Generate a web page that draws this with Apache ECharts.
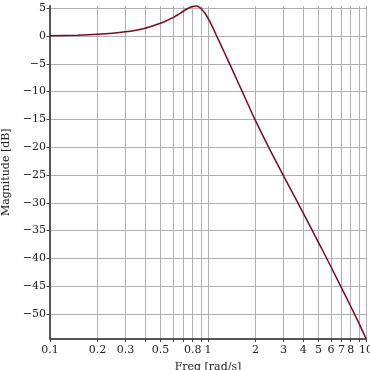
<!DOCTYPE html>
<html>
<head>
<meta charset="utf-8">
<script src="https://cdn.jsdelivr.net/npm/echarts@6/dist/echarts.min.js"></script>
<style>
  html, body { margin: 0; padding: 0; background: #fff; }
  #chart { width: 370px; height: 370px; }
</style>
</head>
<body>
<div id="chart"></div>
<script>
// frequency [rad/s] and magnitude [dB]
const freq = [0.1, 0.15, 0.2, 0.25, 0.3, 0.35, 0.4, 0.45, 0.5, 0.55, 0.6, 0.65, 0.7, 0.75, 0.8, 0.84, 0.88, 0.92, 0.957, 1.0,
  1.05, 1.1, 1.145, 1.2, 1.375, 1.5, 1.648, 1.8, 1.98, 2.5, 3.0, 4.0, 5.0, 6.0, 7.0, 8.0, 9.0, 10];
const magDb = [0.05, 0.15, 0.3, 0.5, 0.75, 1.05, 1.4, 1.85, 2.3, 2.8, 3.3, 3.9, 4.5, 5.0, 5.3, 5.4, 5.2, 4.7, 4.1, 3.2,
  2.05, 0.85, -0.25, -1.45, -5.1, -7.45, -10.0, -12.4, -15.0, -20.8, -25.1, -31.8, -37.1, -41.5, -45.3, -48.6, -51.6, -54.4];

const xLabelValues = [0.1, 0.2, 0.3, 0.5, 0.8, 1, 2, 3, 4, 5, 6, 7, 8, 10];
const xTickValues = [0.1, 0.2, 0.3, 0.4, 0.5, 0.6, 0.7, 0.8, 0.9, 1, 2, 3, 4, 5, 6, 7, 8, 9, 10];

const serif = 'DejaVu Serif';
const minus = v => (v < 0 ? '\u2212' + Math.abs(v) : String(v));

const chart = echarts.init(document.getElementById('chart'));
chart.setOption({
  animation: false,
  grid: { left: 50, right: 4, top: 6, bottom: 31.5, outerBoundsMode: 'none' },
  xAxis: {
    type: 'log',
    logBase: 10,
    min: 0.1,
    max: 10,
    name: 'Freq [rad/s]',
    nameLocation: 'middle',
    nameGap: 23,
    nameTextStyle: { fontFamily: serif, fontSize: 11, color: '#222' },
    axisLine: { onZero: false, lineStyle: { color: '#555', width: 2 } },
    axisTick: { show: true, length: 3.5, customValues: xTickValues, lineStyle: { color: '#444' } },
    axisLabel: {
      customValues: xLabelValues,
      fontFamily: serif, fontSize: 11, color: '#222', margin: 6,
      formatter: v => String(v)
    },
    splitLine: { show: true, lineStyle: { color: '#b0b0b0', width: 1 } }
  },
  yAxis: {
    type: 'value',
    min: -54.4,
    max: 5.4,
    minInterval: 5,
    maxInterval: 5,
    name: 'Magnitude [dB]',
    nameLocation: 'middle',
    nameGap: 34,
    nameTextStyle: { fontFamily: serif, fontSize: 11, color: '#222' },
    axisLine: { show: true, onZero: false, lineStyle: { color: '#555', width: 2 } },
    axisTick: { show: true, length: 3.5, lineStyle: { color: '#444' } },
    axisLabel: {
      fontFamily: serif, fontSize: 11, color: '#222', margin: 4,
      showMinLabel: false, showMaxLabel: false,
      formatter: minus
    },
    splitLine: { show: true, showMinLine: false, showMaxLine: false, lineStyle: { color: '#b0b0b0', width: 1 } }
  },
  series: [{
    type: 'line',
    data: freq.map((f, i) => [f, magDb[i]]),
    showSymbol: false,
    smooth: 0.25,
    clip: false,
    lineStyle: { color: '#7a0a1e', width: 1.5 }
  }]
});
</script>
</body>
</html>
